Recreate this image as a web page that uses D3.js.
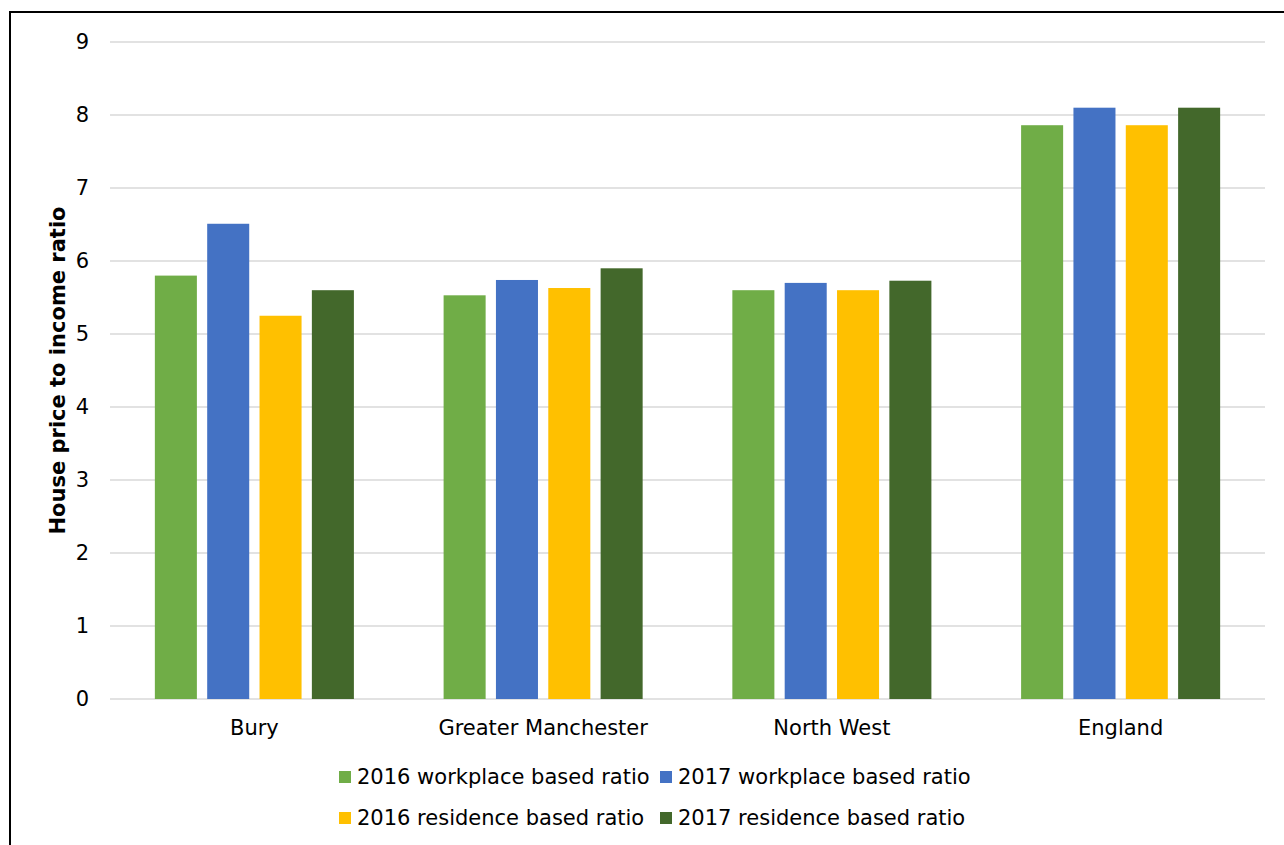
<!DOCTYPE html>
<html>
<head>
<meta charset="utf-8">
<script src="https://cdn.jsdelivr.net/npm/d3@7"></script>
<style>
  body { margin: 0; background: #fff; }
  svg { display: block; font-family: "DejaVu Sans", Verdana, sans-serif; }
</style>
</head>
<body>
<svg id="chart"></svg>
<script>
"use strict";

const categories = ["Bury", "Greater Manchester", "North West", "England"];
const seriesNames = [
    "2016 workplace based ratio",
    "2017 workplace based ratio",
    "2016 residence based ratio",
    "2017 residence based ratio"
];
const seriesColors = ["#70ad47", "#4472c4", "#ffc000", "#43682b"];
const workplace2016 = [5.80, 5.53, 5.60, 7.86];
const workplace2017 = [6.51, 5.74, 5.70, 8.10];
const residence2016 = [5.25, 5.63, 5.60, 7.86];
const residence2017 = [5.60, 5.90, 5.73, 8.10];
const yTicks = [0, 1, 2, 3, 4, 5, 6, 7, 8, 9];

const seriesValues = [workplace2016, workplace2017, residence2016, residence2017];

function drawChart() {
    const width = 1284;
    const height = 845;
    const FONT_SIZE = 21;
    const plot = {left: 110, right: 1265, top: 42, bottom: 699};

    const svg = d3.select("#chart")
        .attr("width", width)
        .attr("height", height);

    // outer chart frame (runs off the right and bottom edge)
    svg.append("rect")
        .attr("x", 10)
        .attr("y", 12)
        .attr("width", 1300)
        .attr("height", 900)
        .attr("fill", "none")
        .attr("stroke", "#000")
        .attr("stroke-width", 2);

    const y = d3.scaleLinear()
        .domain([0, 9])
        .range([plot.bottom, plot.top]);

    const x0 = d3.scaleBand()
        .domain(categories)
        .range([plot.left, plot.right]);

    const x1 = d3.scaleBand()
        .domain(d3.range(seriesNames.length))
        .range([0, x0.bandwidth()])
        .paddingInner(0.197)
        .paddingOuter(0.857);

    // gridlines
    svg.append("g").selectAll("line")
        .data(yTicks)
        .enter().append("line")
        .attr("x1", plot.left)
        .attr("x2", plot.right)
        .attr("y1", d => y(d))
        .attr("y2", d => y(d))
        .attr("stroke", "#d9d9d9")
        .attr("stroke-width", 1.5);

    // y tick labels
    svg.append("g").selectAll("text")
        .data(yTicks)
        .enter().append("text")
        .attr("x", 89)
        .attr("y", d => y(d))
        .attr("text-anchor", "end")
        .attr("dominant-baseline", "central")
        .attr("font-size", FONT_SIZE)
        .attr("fill", "#000")
        .text(d => d);

    // bars
    const groups = svg.append("g").selectAll("g")
        .data(categories)
        .enter().append("g")
        .attr("transform", d => `translate(${x0(d)},0)`);

    groups.selectAll("rect")
        .data((d, i) => seriesValues.map((vals, s) => ({s: s, value: vals[i]})))
        .enter().append("rect")
        .attr("x", d => x1(d.s))
        .attr("width", x1.bandwidth())
        .attr("y", d => y(d.value))
        .attr("height", d => y(0) - y(d.value))
        .attr("fill", d => seriesColors[d.s]);

    // category labels
    svg.append("g").selectAll("text")
        .data(categories)
        .enter().append("text")
        .attr("x", d => x0(d) + x0.bandwidth() / 2)
        .attr("y", 728)
        .attr("text-anchor", "middle")
        .attr("dominant-baseline", "central")
        .attr("font-size", FONT_SIZE)
        .attr("fill", "#000")
        .text(d => d);

    // y axis title
    svg.append("text")
        .attr("transform", `translate(58,${(plot.top + plot.bottom) / 2}) rotate(-90)`)
        .attr("text-anchor", "middle")
        .attr("dominant-baseline", "central")
        .attr("font-size", FONT_SIZE)
        .attr("font-weight", "bold")
        .attr("fill", "#000")
        .text("House price to income ratio");

    // legend, two columns by two rows
    const legendCols = [339, 660];
    const legendRows = [777, 818];
    const legend = svg.append("g").selectAll("g")
        .data(seriesNames)
        .enter().append("g")
        .attr("transform", (d, i) => `translate(${legendCols[i % 2]},${legendRows[Math.floor(i / 2)]})`);

    legend.append("rect")
        .attr("x", 0)
        .attr("y", -6)
        .attr("width", 12)
        .attr("height", 12)
        .attr("fill", (d, i) => seriesColors[i]);

    legend.append("text")
        .attr("x", 18)
        .attr("y", 0)
        .attr("dominant-baseline", "central")
        .attr("font-size", FONT_SIZE)
        .attr("fill", "#000")
        .text(d => d);
}

drawChart();
</script>
</body>
</html>
